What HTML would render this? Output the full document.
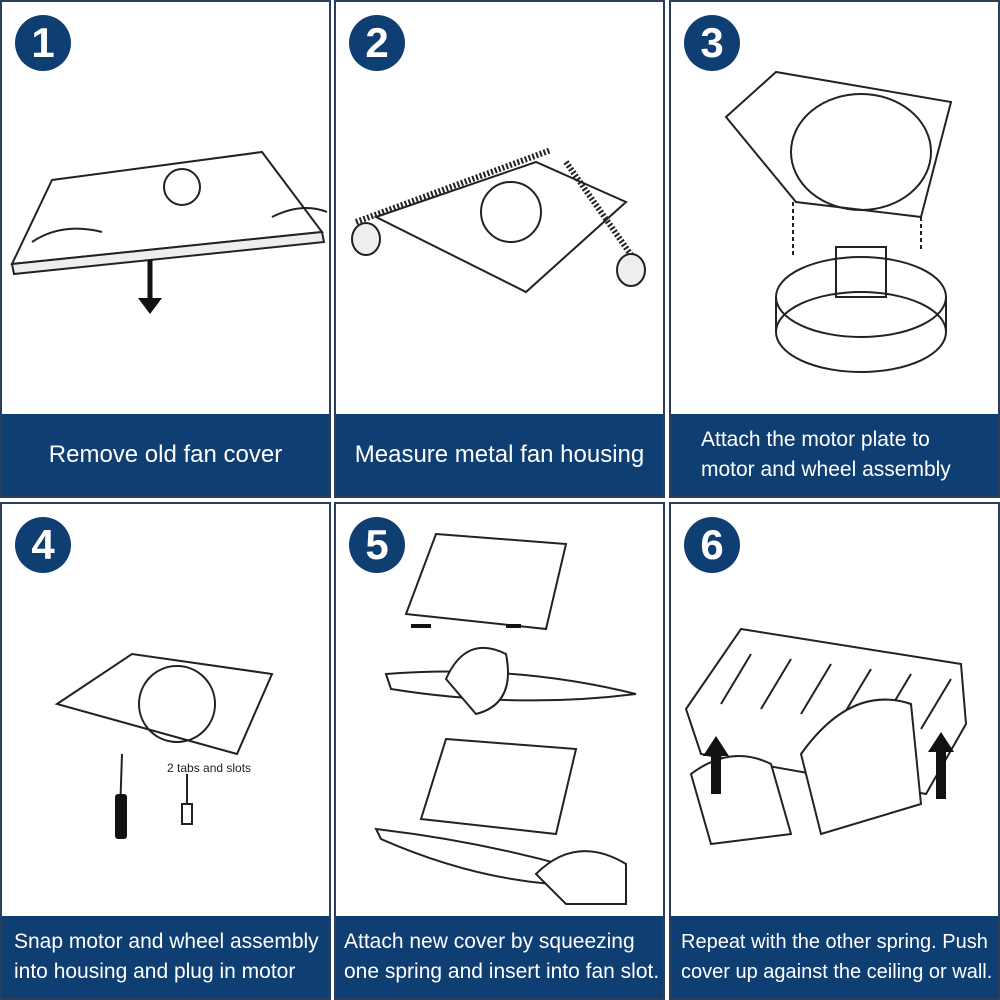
<!DOCTYPE html>
<html><head><style>
body{margin:0;width:1000px;height:1000px;background:#fff;position:relative;overflow:hidden;font-family:"Liberation Sans",sans-serif}
.p{position:absolute;box-sizing:border-box;border:2px solid #2b3f5c;background:#fff}
.cap{position:absolute;left:0;right:0;bottom:0;background:#0f3e72;color:#fff;font-size:24px;display:flex;align-items:center;justify-content:center;text-align:center;line-height:30px}
.cap.s{font-size:21px;text-align:left;justify-content:flex-start;padding-left:12px;line-height:30px}
.n{position:absolute;left:13px;top:13px;width:56px;height:56px;border-radius:50%;background:#0f3e72;color:#fff;font-weight:bold;font-size:42px;text-align:center;line-height:56px}
svg{position:absolute;left:0;top:0}
</style></head><body>
<div class="p" style="left:0;top:0;width:331px;height:498px"><div class="n">1</div>
<svg width="330" height="415"><g fill="none" stroke="#222" stroke-width="2">
<path d="M50 178 L260 150 L320 230 L10 262 Z"/><path d="M10 262 L320 230 L322 240 L12 272Z" fill="#eee"/>
<circle cx="180" cy="185" r="18"/><path d="M30 240 Q60 220 100 230 M270 215 Q300 200 325 210"/></g>
<path d="M148 258 V300" stroke="#111" stroke-width="5"/><path d="M136 296 L148 312 L160 296Z" fill="#111"/></svg>
<div class="cap" style="height:82px">Remove old fan cover</div></div>

<div class="p" style="left:334px;top:0;width:331px;height:498px"><div class="n">2</div>
<svg width="330" height="415"><g fill="none" stroke="#222" stroke-width="2">
<path d="M40 215 L200 160 L290 200 L190 290 Z"/><path d="M20 220 L215 148 M230 160 L300 260" stroke-width="6" stroke-dasharray="2 2"/>
<circle cx="175" cy="210" r="30"/><ellipse cx="30" cy="237" rx="14" ry="16" fill="#eee"/><ellipse cx="295" cy="268" rx="14" ry="16" fill="#eee"/></g></svg>
<div class="cap" style="height:82px">Measure metal fan housing</div></div>

<div class="p" style="left:669px;top:0;width:331px;height:498px"><div class="n">3</div>
<svg width="330" height="415"><g fill="none" stroke="#222" stroke-width="2">
<path d="M55 115 L105 70 L280 100 L250 215 L125 200 Z"/><ellipse cx="190" cy="150" rx="70" ry="58"/>
<ellipse cx="190" cy="330" rx="85" ry="40"/><path d="M105 330 V295 M275 330 V295"/><ellipse cx="190" cy="295" rx="85" ry="40"/>
<rect x="165" y="245" width="50" height="50"/><path d="M122 200 V255 M250 215 V250" stroke-dasharray="4 3"/></g></svg>
<div class="cap s" style="height:82px;padding-left:30px">Attach the motor plate to<br>motor and wheel assembly</div></div>

<div class="p" style="left:0;top:502px;width:331px;height:498px"><div class="n">4</div>
<svg width="330" height="415"><g fill="none" stroke="#222" stroke-width="2">
<path d="M55 200 L130 150 L270 170 L235 250 Z"/><circle cx="175" cy="200" r="38"/><path d="M120 250 L118 310"/>
<path d="M185 270 L185 300 M180 300 h10 v20 h-10z"/></g><rect x="113" y="290" width="12" height="45" fill="#111" rx="3"/>
<text x="165" y="268" font-size="12" font-family="Liberation Sans" fill="#222">2 tabs and slots</text></svg>
<div class="cap s" style="height:82px">Snap motor and wheel assembly<br>into housing and plug in motor</div></div>

<div class="p" style="left:334px;top:502px;width:331px;height:498px"><div class="n">5</div>
<svg width="330" height="415"><g fill="none" stroke="#222" stroke-width="2">
<path d="M100 30 L230 40 L210 125 L70 110 Z"/><path d="M50 170 Q180 160 300 190 Q180 205 55 185Z"/>
<path d="M110 235 L240 245 L220 330 L85 315 Z"/><path d="M40 325 Q170 340 290 380 Q170 390 45 335Z"/>
<path d="M110 175 Q130 130 170 150 Q180 200 140 210Z M200 370 Q240 330 290 360 L290 400 L230 400Z" fill="#fff"/></g>
<path d="M75 122 h20 M185 122 h-15" stroke="#111" stroke-width="4"/></svg>
<div class="cap s" style="height:82px;padding-left:8px">Attach new cover by squeezing<br>one spring and insert into fan slot.</div></div>

<div class="p" style="left:669px;top:502px;width:331px;height:498px"><div class="n">6</div>
<svg width="330" height="415"><g fill="none" stroke="#222" stroke-width="2">
<path d="M15 205 L70 125 L290 160 L295 220 L255 290 L30 250 Z"/>
<path d="M50 200 L80 150 M90 205 L120 155 M130 210 L160 160 M170 215 L200 165 M210 220 L240 170 M250 225 L280 175"/>
<path d="M20 270 Q60 240 100 260 L120 330 L40 340Z M130 250 Q180 180 240 200 L250 300 L150 330Z" fill="#fff"/></g>
<path d="M45 250 V290 M270 245 V295" stroke="#111" stroke-width="10"/><path d="M32 252 L45 232 L58 252Z M257 248 L270 228 L283 248Z" fill="#111"/></svg>
<div class="cap s" style="height:82px;padding-left:10px;font-size:20px">Repeat with the other spring. Push<br>cover up against the ceiling or wall.</div></div>
</body></html>
